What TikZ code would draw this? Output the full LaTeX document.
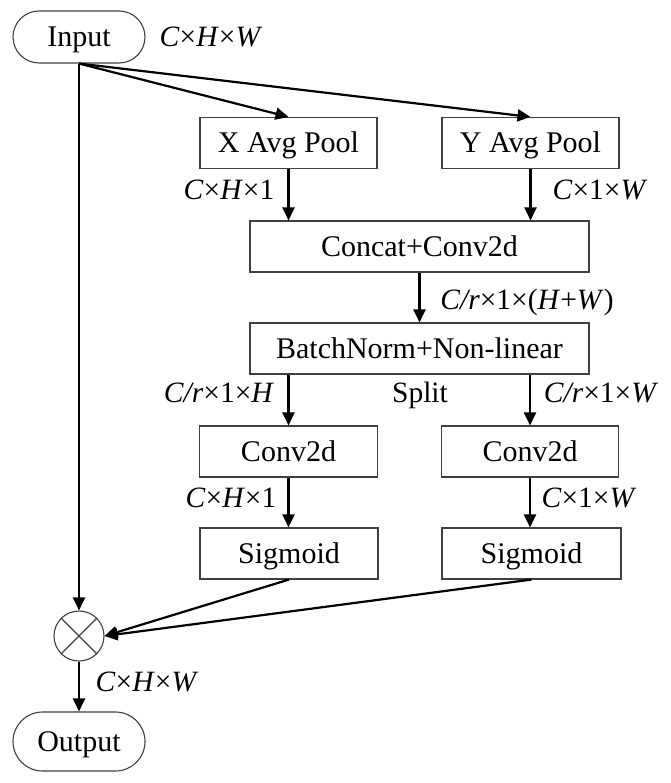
\documentclass[tikz,border=0pt]{standalone}
\usepackage{fontspec}
\setmainfont{Liberation Serif}
\usetikzlibrary{arrows.meta,shapes.misc}
\begin{document}
\begin{tikzpicture}[x=1pt,y=-1pt,
  font=\fontsize{30}{36}\selectfont,
  box/.style={draw=black!75,line width=1.1pt,rectangle,inner sep=0pt,minimum height=51pt,text height=20pt,text depth=0pt},
  term/.style={draw=black!75,line width=1.1pt,rounded rectangle,inner sep=0pt,minimum width=132pt,text height=20pt,text depth=0pt},
  arr/.style={line width=2.2pt,-{Triangle[length=13pt,width=12pt]}},
  lbl/.style={inner sep=0pt,font=\fontsize{29.5}{34}\selectfont,text height=19.5pt,text depth=0pt}
]
\useasboundingbox[fill=white] (0,0) rectangle (670,783);
\node[term,minimum height=52pt] (input) at (79,37) {Input};
\node[box,minimum width=177pt] (xpool) at (288.5,143) {X Avg Pool};
\node[box,minimum width=177pt] (ypool) at (530.5,143) {Y Avg Pool};
\node[box,minimum width=339pt] (concat) at (419.5,246.5) {Concat+Conv2d};
\node[box,minimum width=339pt] (bn) at (419.5,348.5) {BatchNorm+Non-linear};
\node[box,minimum width=178pt] (conv1) at (288.5,451.5) {Conv2d};
\node[box,minimum width=177pt] (conv2) at (530,451.5) {Conv2d};
\node[box,minimum width=178pt] (sig1) at (289,553.5) {Sigmoid};
\node[box,minimum width=179pt] (sig2) at (531.5,553.5) {Sigmoid};
\node[draw=black!75,line width=1.1pt,circle,minimum size=50pt,inner sep=0pt] (mult) at (79,636) {};
\draw[line width=1.1pt,black!75] (mult.north west) -- (mult.south east) (mult.north east) -- (mult.south west);
\node[term,minimum height=59pt] (output) at (79,741.5) {Output};

\node[lbl] (l1) at (211,37) {\textit{C}×\textit{H}×\textit{W}};
\node[lbl] (l2) at (229,190) {\textit{C}×\textit{H}×1};
\node[lbl] (l3) at (600,190) {\textit{C}×1×\textit{W}};
\node[lbl] (l4) at (527,300) {\textit{C/r}×1×(\textit{H}+\textit{W})};
\node[lbl] (l5) at (219,393) {\textit{C/r}×1×\textit{H}};
\node[lbl] (l6) at (420,393) {Split};
\node[lbl] (l7) at (601,393) {\textit{C/r}×1×\textit{W}};
\node[lbl] (l8) at (231,498) {\textit{C}×\textit{H}×1};
\node[lbl] (l9) at (589,498) {\textit{C}×1×\textit{W}};
\node[lbl] (l10) at (147,682) {\textit{C}×\textit{H}×\textit{W}};

\draw[arr] (input.south) -- (xpool.north);
\draw[arr] (input.south) -- (ypool.north);
\draw[arr] (input.south) -- (mult.north);
\draw[arr] (xpool.south) -- (xpool.south |- concat.north);
\draw[arr] (ypool.south) -- (ypool.south |- concat.north);
\draw[arr] (concat.south) -- (bn.north);
\draw[arr] (conv1.north |- bn.south) -- (conv1.north);
\draw[arr] (conv2.north |- bn.south) -- (conv2.north);
\draw[arr] (conv1.south) -- (conv1.south |- sig1.north);
\draw[arr] (conv2.south) -- (conv2.south |- sig2.north);
\draw[arr] (sig1.south) -- (mult.east);
\draw[arr] (sig2.south) -- (mult.east);
\draw[arr] (mult.south) -- (output.north);
\end{tikzpicture}
\end{document}
